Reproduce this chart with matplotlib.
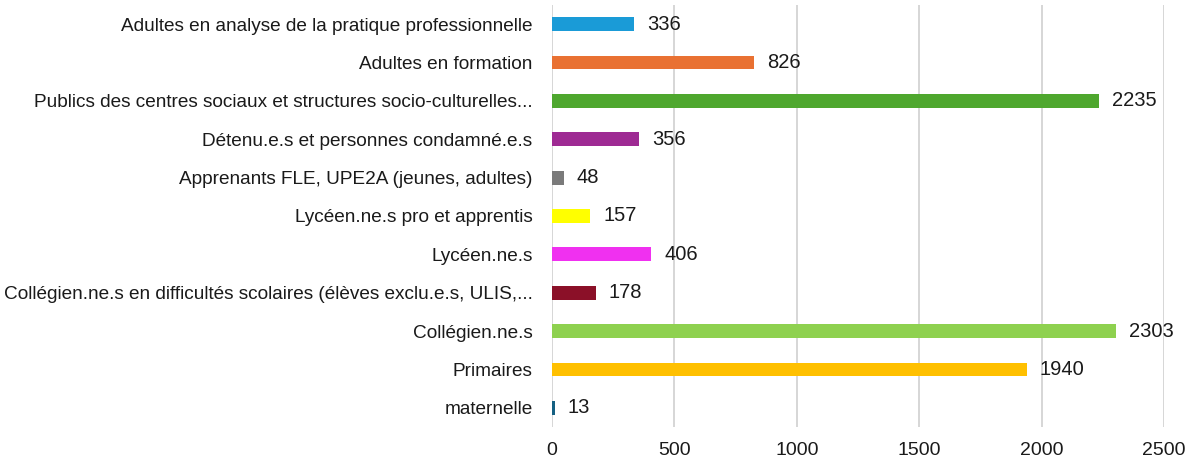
import matplotlib
matplotlib.use("Agg")
import matplotlib.pyplot as plt

categories = [
    "maternelle",
    "Primaires",
    "Collégien.ne.s",
    "Collégien.ne.s en difficultés scolaires (élèves exclu.e.s, ULIS,...",
    "Lycéen.ne.s",
    "Lycéen.ne.s pro et apprentis",
    "Apprenants FLE, UPE2A (jeunes, adultes)",
    "Détenu.e.s et personnes condamné.e.s",
    "Publics des centres sociaux et structures socio-culturelles...",
    "Adultes en formation",
    "Adultes en analyse de la pratique professionnelle",
]
values = [13, 1940, 2303, 178, 406, 157, 48, 356, 2235, 826, 336]
colors = ["#156082", "#ffc000", "#8ed14f", "#8b1028", "#f030f0", "#ffff00",
          "#7a7a7a", "#9e2a93", "#4ea72e", "#e97132", "#1a9bd7"]
xticks = [0, 500, 1000, 1500, 2000, 2500]

plt.rcParams['font.family'] = ['Liberation Sans', 'DejaVu Sans']

fig = plt.figure(figsize=(12.02, 4.62), dpi=100)
ax = fig.add_axes([552/1202, 1 - 427/462, (1164 - 552)/1202, (427 - 5)/462])

y = list(range(len(categories)))
ax.barh(y, values, height=0.36, color=colors, zorder=3)
for yi, v in zip(y, values):
    ax.text(v + 52, yi, str(v), va="center", ha="left", fontsize=14.5, color="#1a1a1a")

ax.set_ylim(-0.5, len(categories) - 0.5)
ax.set_xlim(0, 2500)
ax.set_xticks(xticks)
ax.set_xticklabels([str(t) for t in xticks], fontsize=14, color="#1a1a1a")
ax.set_yticks(y)
ax.set_yticklabels(categories, fontsize=13.7, color="#1a1a1a")
ax.tick_params(axis="y", length=0, pad=14)
ax.tick_params(axis="x", length=0, pad=11)
ax.grid(axis="x", color="#d0d0d0", linewidth=1.2, zorder=0)
for s in ["top", "right", "bottom", "left"]:
    ax.spines[s].set_visible(False)

fig.savefig("out.png", dpi=100)
